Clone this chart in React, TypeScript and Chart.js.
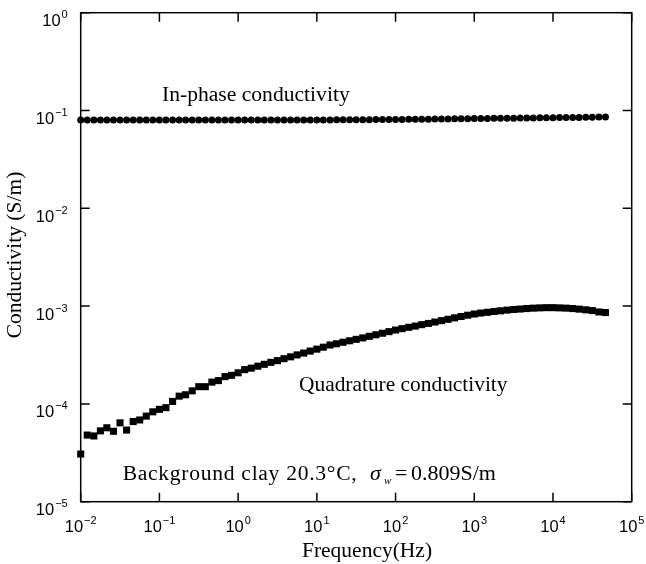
import { useEffect, useRef } from "react";
import { Chart, registerables } from "chart.js";

Chart.register(...registerables);

// Measurement frequencies (Hz), 12 per decade
const frequencies = [
  0.01, 0.0121, 0.0147, 0.0178, 0.0215, 0.0261, 0.0316, 0.0383, 0.0464, 0.0562, 0.0681, 0.0825,
  0.1, 0.121, 0.147, 0.178, 0.215, 0.261, 0.316, 0.383, 0.464, 0.562, 0.681, 0.825,
  1, 1.21, 1.47, 1.78, 2.15, 2.61, 3.16, 3.83, 4.64, 5.62, 6.81, 8.25,
  10, 12.1, 14.7, 17.8, 21.5, 26.1, 31.6, 38.3, 46.4, 56.2, 68.1, 82.5,
  100, 121, 147, 178, 215, 261, 316, 383, 464, 562, 681, 825,
  1000, 1210, 1470, 1780, 2150, 2610, 3160, 3830, 4640, 5620, 6810, 8250,
  10000, 12100, 14700, 17800, 21500, 26100, 31600, 38300, 46400,
];

// In-phase conductivity (S/m)
const inPhase = [
  0.08, 0.0801, 0.08, 0.0799, 0.08, 0.08, 0.0801, 0.08, 0.0799, 0.08, 0.08, 0.08,
  0.0799, 0.08, 0.08, 0.0801, 0.08, 0.0799, 0.08, 0.08, 0.08, 0.0799, 0.08, 0.08,
  0.08, 0.0799, 0.0799, 0.08, 0.0799, 0.0798, 0.0799, 0.0799, 0.08, 0.0799, 0.0799, 0.08,
  0.08, 0.0801, 0.0801, 0.0802, 0.0802, 0.0803, 0.0804, 0.0805, 0.0806, 0.0807, 0.0808, 0.0809,
  0.081, 0.0811, 0.0812, 0.0813, 0.0815, 0.0816, 0.0817, 0.0819, 0.082, 0.0822, 0.0823, 0.0825,
  0.0826, 0.0828, 0.0829, 0.0831, 0.0832, 0.0834, 0.0835, 0.0837, 0.0838, 0.084, 0.0841, 0.0843,
  0.0844, 0.0846, 0.0847, 0.0849, 0.085, 0.0852, 0.0854, 0.0856, 0.0858,
];

// Quadrature conductivity (S/m)
const quadrature = [
  3.07e-5, 4.8e-5, 4.7e-5, 5.3e-5, 5.7e-5, 5.25e-5, 6.4e-5, 5.4e-5, 6.6e-5, 6.85e-5, 7.5e-5, 8.3e-5,
  8.8e-5, 9.15e-5, 1.06e-4, 1.2e-4, 1.24e-4, 1.36e-4, 1.5e-4, 1.5e-4, 1.67e-4, 1.73e-4, 1.9e-4, 1.96e-4,
  2.08e-4, 2.24e-4, 2.32e-4, 2.43e-4, 2.54e-4, 2.66e-4, 2.77e-4, 2.9e-4, 3.03e-4, 3.17e-4, 3.31e-4, 3.47e-4,
  3.63e-4, 3.8e-4, 4.0e-4, 4.12e-4, 4.27e-4, 4.42e-4, 4.57e-4, 4.73e-4, 4.91e-4, 5.09e-4, 5.28e-4, 5.48e-4,
  5.69e-4, 5.88e-4, 6.07e-4, 6.25e-4, 6.46e-4, 6.65e-4, 6.87e-4, 7.1e-4, 7.33e-4, 7.59e-4, 7.83e-4, 8.07e-4,
  8.3e-4, 8.49e-4, 8.65e-4, 8.81e-4, 8.95e-4, 9.1e-4, 9.23e-4, 9.33e-4, 9.44e-4, 9.53e-4, 9.59e-4, 9.64e-4,
  9.64e-4, 9.59e-4, 9.53e-4, 9.44e-4, 9.31e-4, 9.16e-4, 9.0e-4, 8.71e-4, 8.59e-4,
];

// Decade tick exponents
const xTickExponents = [-2, -1, 0, 1, 2, 3, 4, 5];
const yTickExponents = [-5, -4, -3, -2, -1, 0];

const SANS = '"Liberation Sans", Arial, Helvetica, sans-serif';
const SERIF = '"Liberation Serif", "Times New Roman", Times, serif';

function expText(e: number): string {
  return e < 0 ? "\u2212" + Math.abs(e) : String(e);
}

// Draws "10" with a raised exponent; align is relative to x
function drawPower(
  ctx: CanvasRenderingContext2D,
  e: number,
  x: number,
  baseline: number,
  align: "center" | "right"
) {
  ctx.textAlign = "left";
  ctx.textBaseline = "alphabetic";
  ctx.font = `16.5px ${SANS}`;
  const w1 = ctx.measureText("10").width;
  ctx.font = `11px ${SANS}`;
  const sup = expText(e);
  const w2 = ctx.measureText(sup).width;
  const gap = 1;
  const total = w1 + gap + w2;
  const start = align === "center" ? x - total / 2 : x - total;
  ctx.font = `16.5px ${SANS}`;
  ctx.fillText("10", start, baseline);
  ctx.font = `11px ${SANS}`;
  ctx.fillText(sup, start + w1 + gap, baseline - 8);
}

const framePlugin = {
  id: "logFrame",
  afterDraw(chart: any) {
    const { ctx, chartArea: a, scales } = chart;
    const xs = scales.x;
    const ys = scales.y;
    const tick = 9;
    ctx.save();
    ctx.strokeStyle = "#000";
    ctx.fillStyle = "#000";
    ctx.lineWidth = 1.5;
    ctx.strokeRect(a.left, a.top, a.right - a.left, a.bottom - a.top);

    ctx.beginPath();
    for (const e of xTickExponents) {
      const px = xs.getPixelForValue(Math.pow(10, e));
      ctx.moveTo(px, a.bottom);
      ctx.lineTo(px, a.bottom - tick);
      ctx.moveTo(px, a.top);
      ctx.lineTo(px, a.top + tick);
    }
    for (const e of yTickExponents) {
      const py = ys.getPixelForValue(Math.pow(10, e));
      ctx.moveTo(a.left, py);
      ctx.lineTo(a.left + tick, py);
      ctx.moveTo(a.right, py);
      ctx.lineTo(a.right - tick, py);
    }
    ctx.stroke();

    for (const e of xTickExponents) {
      const px = xs.getPixelForValue(Math.pow(10, e));
      drawPower(ctx, e, px, a.bottom + 30, "center");
    }
    for (const e of yTickExponents) {
      const py = ys.getPixelForValue(Math.pow(10, e));
      drawPower(ctx, e, a.left - 13, py + 13.5, "right");
    }

    // Axis titles
    ctx.font = `21.5px ${SERIF}`;
    ctx.textAlign = "center";
    ctx.textBaseline = "alphabetic";
    ctx.fillText("Frequency(Hz)", 367, 557);
    ctx.save();
    ctx.translate(21, 255);
    ctx.rotate(-Math.PI / 2);
    ctx.fillText("Conductivity (S/m)", 0, 0);
    ctx.restore();

    // Series labels and sample note
    ctx.textAlign = "left";
    ctx.font = `21.6px ${SERIF}`;
    ctx.fillText("In-phase conductivity", 162, 101);
    ctx.font = `21.4px ${SERIF}`;
    ctx.fillText("Quadrature conductivity", 299, 391);
    ctx.font = `21.6px ${SERIF}`;
    (ctx as any).letterSpacing = "0.7px";
    ctx.fillText("Background clay 20.3\u00B0C,", 122.7, 480);
    (ctx as any).letterSpacing = "0px";
    ctx.font = `italic 22px ${SERIF}`;
    ctx.fillText("\u03C3", 370, 480);
    ctx.font = `italic 11px ${SERIF}`;
    ctx.fillText("w", 384, 484);
    ctx.font = `22px ${SERIF}`;
    ctx.fillText("=", 395, 480);
    ctx.fillText("0.809S/m", 411, 480);
    ctx.restore();
  },
};

export default function App() {
  const canvasRef = useRef<HTMLCanvasElement | null>(null);

  useEffect(() => {
    const canvas = canvasRef.current;
    if (!canvas) return;
    const chart = new Chart(canvas, {
      type: "scatter",
      data: {
        datasets: [
          {
            label: "In-phase conductivity",
            data: frequencies.map((f, i) => ({ x: f, y: inPhase[i] })),
            pointStyle: "circle",
            pointRadius: 3.5,
            backgroundColor: "#000",
            borderColor: "#000",
            borderWidth: 0,
            showLine: false,
            clip: false as any,
          },
          {
            label: "Quadrature conductivity",
            data: frequencies.map((f, i) => ({ x: f, y: quadrature[i] })),
            pointStyle: "rect",
            pointRadius: 5,
            backgroundColor: "#000",
            borderColor: "#000",
            borderWidth: 0,
            showLine: false,
            clip: false as any,
          },
        ],
      },
      options: {
        responsive: false,
        animation: false,
        events: [],
        layout: { padding: { left: 80.7, right: 14.3, top: 12.7, bottom: 62.3 } },
        plugins: { legend: { display: false }, tooltip: { enabled: false } },
        scales: {
          x: { type: "logarithmic", min: 0.01, max: 1e5, display: false },
          y: { type: "logarithmic", min: 1e-5, max: 1, display: false },
        },
      },
      plugins: [framePlugin],
    });
    return () => chart.destroy();
  }, []);

  return (
    <div style={{ position: "absolute", left: 0, top: 0, width: 646, height: 564, background: "#fff" }}>
      <canvas ref={canvasRef} width={646} height={564} style={{ display: "block" }} />
    </div>
  );
}
